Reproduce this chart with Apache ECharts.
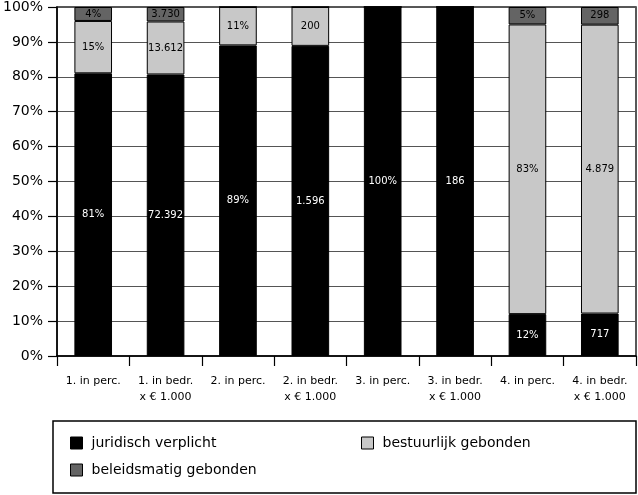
<!DOCTYPE html>
<html>
<head>
<meta charset="utf-8">
<script src="https://cdn.jsdelivr.net/npm/echarts@6/dist/echarts.min.js"></script>
<style>html,body{margin:0;padding:0;background:#fff}#c{width:638px;height:495px}</style>
</head>
<body>
<div id="c"></div>
<script>
const categories = ['1. in perc.', '1. in bedr.\nx € 1.000', '2. in perc.', '2. in bedr.\nx € 1.000', '3. in perc.', '3. in bedr.\nx € 1.000', '4. in perc.', '4. in bedr.\nx € 1.000'];
const juridisch = [81, 72392, 89, 1596, 100, 186, 12, 717];
const bestuurlijk = [15, 13612, 11, 200, 0, 0, 83, 4879];
const beleidsmatig = [4, 3730, 0, 0, 0, 0, 5, 298];
const yTicks = [0, 10, 20, 30, 40, 50, 60, 70, 80, 90, 100];

const FONT = 'DejaVu Sans';
const totals = categories.map((c, i) => juridisch[i] + bestuurlijk[i] + beleidsmatig[i]);
function fmt(v, i) {
  const s = String(v).replace(/\B(?=(\d{3})+(?!\d))/g, '.');
  return categories[i].indexOf('perc') >= 0 ? s + '%' : s;
}
function build(arr) {
  return arr.map((v, i) => ({ value: v / totals[i] * 100, raw: v, idx: i }));
}
function series(name, arr, color, textColor) {
  return {
    name: name, type: 'bar', stack: 'a', barWidth: '52%',
    data: build(arr),
    itemStyle: { color: color, borderColor: '#000', borderWidth: 1 },
    label: {
      show: true, position: 'inside', color: textColor, fontFamily: FONT, fontSize: 10,
      formatter: p => p.data.raw ? fmt(p.data.raw, p.data.idx) : ''
    },
    emphasis: { disabled: true }
  };
}
function legend(name, left, top) {
  return {
    data: [name], left: left, top: top, padding: 0,
    itemWidth: 12, itemHeight: 12, icon: 'rect', selectedMode: false,
    itemStyle: { borderColor: '#000', borderWidth: 1 },
    textStyle: { fontSize: 14, color: '#000', fontFamily: FONT, padding: [0, 0, 0, 4] }
  };
}
const chart = echarts.init(document.getElementById('c'));
chart.setOption({
  animation: false,
  backgroundColor: '#fff',
  textStyle: { fontFamily: FONT },
  grid: { left: 54, right: 2, top: 7, bottom: 139, show: true, borderColor: '#222', borderWidth: 1.5, containLabel: false },
  xAxis: {
    type: 'category', data: categories, boundaryGap: true,
    axisLine: { lineStyle: { color: '#000', width: 1.5 } },
    axisTick: { show: true, interval: 0, length: 10, lineStyle: { color: '#000', width: 1.2 } },
    axisLabel: { interval: 0, color: '#000', fontSize: 11, fontFamily: FONT, margin: 17, lineHeight: 16 }
  },
  yAxis: {
    type: 'value', min: yTicks[0], max: yTicks[yTicks.length - 1], interval: 10,
    axisLine: { show: true, lineStyle: { color: '#000', width: 1.5 } },
    axisTick: { show: true, length: 9, lineStyle: { color: '#000', width: 1.2 } },
    axisLabel: { color: '#000', fontSize: 14, fontFamily: FONT, margin: 14, formatter: v => v + '%' },
    splitLine: { show: true, lineStyle: { color: '#555', width: 1.2 } }
  },
  legend: [
    legend('juridisch verplicht', 70, 436),
    legend('bestuurlijk gebonden', 361, 436),
    legend('beleidsmatig gebonden', 70, 463)
  ],
  graphic: [
    { type: 'rect', shape: { x: 53, y: 421, width: 583, height: 72 }, style: { fill: 'none', stroke: '#000', lineWidth: 1.5 } }
  ],
  series: [
    series('juridisch verplicht', juridisch, '#000', '#fff'),
    series('bestuurlijk gebonden', bestuurlijk, '#c8c8c8', '#000'),
    series('beleidsmatig gebonden', beleidsmatig, '#646464', '#000')
  ]
});
</script>
</body>
</html>
